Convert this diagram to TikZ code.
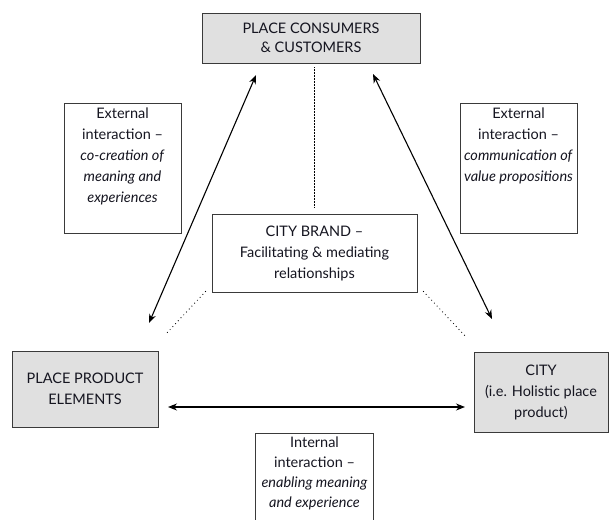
\documentclass[tikz,border=0pt]{standalone}
\usepackage{fontspec}
\setmainfont{Lato}
\usetikzlibrary{arrows.meta}
\definecolor{boxgray}{HTML}{E0E0E0}
\definecolor{edge}{HTML}{3A3A3A}
\definecolor{ink}{HTML}{151520}
\begin{document}
\begin{tikzpicture}[x=1pt,y=-1pt,
  every node/.style={font=\fontsize{14.5}{21}\selectfont, text=ink},
  graybox/.style={draw=edge, line width=0.9pt, fill=boxgray, align=center, inner sep=0pt},
  whitebox/.style={draw=edge, line width=0.9pt, fill=white, inner sep=4pt, anchor=north},
  twoway/.style={{Stealth[length=9pt,width=7pt]}-{Stealth[length=9pt,width=7pt]}, line width=1.1pt, black},
  dots/.style={line width=1.2pt, line cap=round, dash pattern=on 0pt off 4pt, black},
  finedots/.style={densely dotted, line width=0.5pt, black}]
\useasboundingbox (0,0) rectangle (609,519);

% main boxes
\node[graybox, minimum width=218pt, minimum height=50pt] (top) at (311,38)
  {PLACE CONSUMERS\\[-2pt]\& CUSTOMERS};
\node[graybox, minimum width=146pt, minimum height=76pt] (ppe) at (85,389)
  {PLACE PRODUCT\\ELEMENTS};
\node[graybox, minimum width=134pt, minimum height=80pt] (city) at (541,392)
  {CITY\\(i.e. Holistic place\\product)};
\node[draw=edge, line width=0.9pt, fill=white, align=center, inner sep=0pt,
  minimum width=205pt, minimum height=78pt] (brand) at (314.5,253)
  {CITY BRAND --\\Facilitating \& mediating\\relationships};

% label boxes
\node[whitebox] (lext) at (122.5,103)
  {\begin{minipage}[t][122pt][t]{109pt}\centering
   External\\interaction --\\\textit{co-creation of}\\\textit{meaning and}\\\textit{experiences}\end{minipage}};
\node[whitebox] (rext) at (518.5,103)
  {\begin{minipage}[t][122pt][t]{109pt}\centering
   External\\interaction --\\\textit{communication of}\\\textit{value propositions}\end{minipage}};
\node[inner sep=4pt, anchor=north] (int) at (314.5,433)
  {\begin{minipage}[t][86pt][t]{109pt}\centering\fontsize{14.5}{20}\selectfont
   Internal\\interaction --\\\textit{enabling meaning}\\\textit{and experience}\end{minipage}};
\draw[draw=edge, line width=0.9pt] (int.south west) |- (int.north east) -- (int.south east);

% arrow ends
\coordinate (la1) at (256,75);
\coordinate (la2) at (149,323);
\coordinate (ra1) at (373,74);
\coordinate (ra2) at (492,319);
\coordinate (ha1) at (168,407);
\coordinate (ha2) at (465,407);
\coordinate (ld) at (165,335);
\coordinate (rd) at (467,338);
\coordinate (vt) at (314,67);
\coordinate (vb) at (314,207);

\draw[twoway] (la2) -- (la1);
\draw[twoway] (ra1) -- (ra2);
\draw[twoway] (ha1) -- (ha2);

\draw[dots] ([xshift=-6pt,yshift=1pt]brand.south west) -- (ld);
\draw[dots] ([xshift=6pt,yshift=1pt]brand.south east) -- (rd);
\draw[finedots] (vt) -- (vb);
\end{tikzpicture}
\end{document}
